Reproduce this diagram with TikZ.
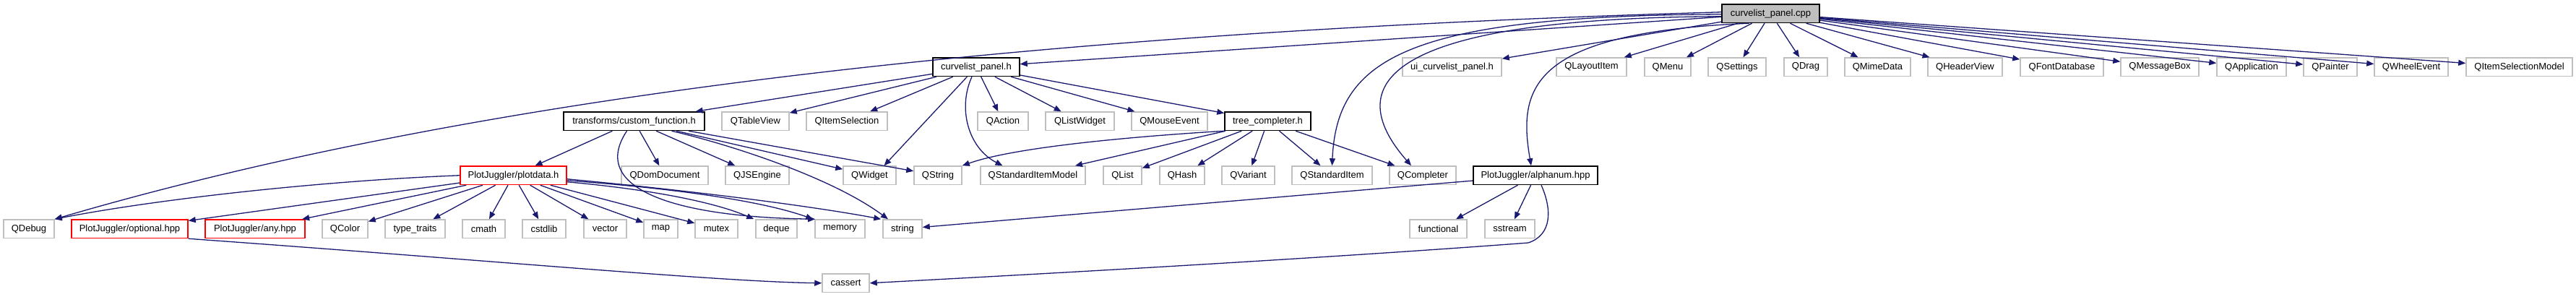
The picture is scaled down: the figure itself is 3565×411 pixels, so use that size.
\documentclass[tikz,border=0pt]{standalone}
\usepackage{fontspec}
\setmainfont{Liberation Sans}
\usetikzlibrary{arrows.meta}
\definecolor{edgeblue}{RGB}{25,25,112}
\definecolor{boxgray}{RGB}{191,191,191}
\definecolor{boxred}{RGB}{255,0,0}
\begin{document}
\begin{tikzpicture}[x=1pt,y=-1pt,
  box/.style={draw=boxgray,line width=1.5pt,fill=white,inner sep=0pt,minimum height=25.5pt,font=\fontsize{13}{15}\selectfont},
  docbox/.style={box,draw=black},
  redbox/.style={box,draw=boxred},
  mainbox/.style={box,draw=black,fill=boxgray},
  e/.style={draw=edgeblue,line width=1.3pt,-{Triangle[length=10pt,width=8pt]}}]
\useasboundingbox (0,0) rectangle (3565,411);

% row 0
\node[mainbox,minimum width=135pt] (cpp) at (2450.5,18.75) {curvelist\_panel.cpp};
% row 1
\node[docbox,minimum width=120pt] (clh) at (1351,92.75) {curvelist\_panel.h};
\node[box,minimum width=137pt] (ui) at (2009.5,92.75) {ui\_curvelist\_panel.h};
\node[box,minimum width=97pt] (qlayout) at (2202.5,92.75) {QLayoutItem};
\node[box,minimum width=64pt] (qmenu) at (2308,92.75) {QMenu};
\node[box,minimum width=80pt] (qsettings) at (2404,92.75) {QSettings};
\node[box,minimum width=60pt] (qdrag) at (2499,92.75) {QDrag};
\node[box,minimum width=91pt] (qmime) at (2598.5,92.75) {QMimeData};
\node[box,minimum width=103pt] (qheader) at (2719.5,92.75) {QHeaderView};
\node[box,minimum width=115pt] (qfontdb) at (2853.5,92.75) {QFontDatabase};
\node[box,minimum width=108pt] (qmsgbox) at (2989,92.75) {QMessageBox};
\node[box,minimum width=96pt] (qapp) at (3116,92.75) {QApplication};
\node[box,minimum width=74pt] (qpainter) at (3225,92.75) {QPainter};
\node[box,minimum width=102pt] (qwheel) at (3337,92.75) {QWheelEvent};
\node[box,minimum width=147pt] (qism) at (3486.5,92.75) {QItemSelectionModel};
% row 2
\node[docbox,minimum width=195pt] (tf) at (877.5,167.75) {transforms/custom\_function.h};
\node[box,minimum width=93pt] (qtable) at (1045.5,167.75) {QTableView};
\node[box,minimum width=112pt] (qitemsel) at (1172,167.75) {QItemSelection};
\node[box,minimum width=70pt] (qaction) at (1388,167.75) {QAction};
\node[box,minimum width=95pt] (qlistw) at (1494.5,167.75) {QListWidget};
\node[box,minimum width=105pt] (qmouse) at (1618.5,167.75) {QMouseEvent};
\node[docbox,minimum width=119pt] (tc) at (1754.5,167.75) {tree\_completer.h};
% row 3
\node[redbox,minimum width=147pt] (pd) at (710.5,242.75) {PlotJuggler/plotdata.h};
\node[box,minimum width=120pt] (qdom) at (920,242.75) {QDomDocument};
\node[box,minimum width=88pt] (qjs) at (1048,242.75) {QJSEngine};
\node[box,minimum width=73pt] (qwidget) at (1203.5,242.75) {QWidget};
\node[box,minimum width=66pt] (qstring) at (1298,242.75) {QString};
\node[box,minimum width=145pt] (qsim) at (1429.5,242.75) {QStandardItemModel};
\node[box,minimum width=53pt] (qlist) at (1553.5,242.75) {QList};
\node[box,minimum width=62pt] (qhash) at (1636,242.75) {QHash};
\node[box,minimum width=73pt] (qvariant) at (1727.5,242.75) {QVariant};
\node[box,minimum width=111pt] (qsi) at (1843.5,242.75) {QStandardItem};
\node[box,minimum width=92pt] (qcompl) at (1969,242.75) {QCompleter};
\node[docbox,minimum width=172pt] (alnum) at (2125,242.75) {PlotJuggler/alphanum.hpp};
% row 4
\node[box,minimum width=70pt] (qdebug) at (40,316.75) {QDebug};
\node[redbox,minimum width=161pt] (opt) at (179.5,316.75) {PlotJuggler/optional.hpp};
\node[redbox,minimum width=138pt] (any) at (353,316.75) {PlotJuggler/any.hpp};
\node[box,minimum width=63pt] (qcolor) at (477.5,316.75) {QColor};
\node[box,minimum width=83pt] (tt) at (574.5,316.75) {type\_traits};
\node[box,minimum width=59pt] (cmath) at (669.5,316.75) {cmath};
\node[box,minimum width=60pt] (cstdlib) at (753,316.75) {cstdlib};
\node[box,minimum width=59pt] (vector) at (837.5,316.75) {vector};
\node[box,minimum width=47pt] (map) at (914.5,316.75) {map};
\node[box,minimum width=59pt] (mutex) at (991.5,316.75) {mutex};
\node[box,minimum width=57pt] (deque) at (1074.5,316.75) {deque};
\node[box,minimum width=69pt] (memory) at (1162.5,316.75) {memory};
\node[box,minimum width=54pt] (string) at (1249,316.75) {string};
\node[box,minimum width=79pt] (functional) at (1990.5,316.75) {functional};
\node[box,minimum width=69pt] (sstream) at (2089.5,316.75) {sstream};
% row 5
\node[box,minimum width=65pt] (cassert) at (1170.5,391.75) {cassert};

% edges from curvelist_panel.cpp
\draw[e] ([yshift=2pt]cpp.west) .. controls (1400,45) and (650,135) .. (qdebug.north east);
\draw[e] (cpp) -- (clh);
\draw[e] ([yshift=-1pt]cpp.west) .. controls (1950,22) and (1850,80) .. (qsi.north);
\draw[e] ([yshift=-4pt]cpp.west) .. controls (1960,25) and (1840,100) .. ([xshift=-16pt]qcompl.north);
\draw[e] (cpp) -- (ui);
\draw[e] ([xshift=-30pt]cpp.south) .. controls (2120,45) and (2100,120) .. ([xshift=-6pt]alnum.north);
\foreach \t in {qlayout,qmenu,qsettings,qdrag,qmime,qheader,qfontdb,qmsgbox,qapp,qpainter,qwheel,qism}
  \draw[e] (cpp) -- (\t);

% edges from curvelist_panel.h
\foreach \t in {tf,qtable,qitemsel,qaction,qlistw,qmouse,tc}
  \draw[e] (clh) -- (\t);
\draw[e] (clh) -- ([xshift=20pt]qwidget.north);
\draw[e] ([xshift=-6pt]clh.south) .. controls (1325,150) and (1340,205) .. ([xshift=-42pt]qsim.north);

% edges from transforms/custom_function.h
\foreach \t in {pd,qdom,qjs,qwidget,qstring}
  \draw[e] (tf) -- (\t);
\draw[e] ([xshift=52pt]tf.south) .. controls (1010,200) and (1150,245) .. ([xshift=-20pt]string.north);
\draw[e] ([xshift=-10pt]tf.south) .. controls (815,260) and (930,300) .. ([xshift=1pt]memory.north west);

% edges from PlotJuggler/plotdata.h
\draw[e] (pd.west) .. controls (450,250) and (220,275) .. (qdebug.north east);
\foreach \t in {opt,any,qcolor,tt,cmath,cstdlib,vector,map,mutex}
  \draw[e] (pd) -- (\t);
\draw[e] ([yshift=-9pt]pd.east) .. controls (900,262) and (990,280) .. ([xshift=-2pt]deque.north west);
\draw[e] ([yshift=-7pt]pd.east) .. controls (950,262) and (1060,280) .. ([xshift=-2pt]memory.north west);
\draw[e] ([yshift=-5pt]pd.east) .. controls (1000,268) and (1150,290) .. ([xshift=-2pt]string.north west);

% edges from tree_completer.h
\draw[e] (tc.south west) .. controls (1550,190) and (1400,205) .. (qstring.north east);
\foreach \t in {qsim,qlist,qhash,qvariant,qsi,qcompl}
  \draw[e] (tc) -- (\t);

% edges from PlotJuggler/alphanum.hpp
\foreach \t in {string,functional,sstream}
  \draw[e] (alnum) -- (\t);
\draw[e] ([xshift=8pt]alnum.south) .. controls (2148,290) and (2148,325) .. (2115,336)
  .. controls (1850,356) and (1500,376) .. (cassert.east);

% edges from PlotJuggler/optional.hpp
\draw[e] (opt.south east) .. controls (700,362) and (1000,390) .. (cassert.west);
\end{tikzpicture}
\end{document}
